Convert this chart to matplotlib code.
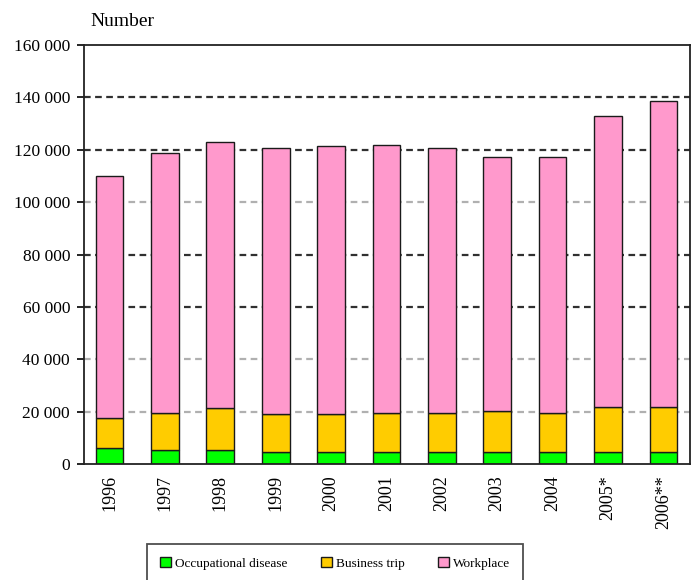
import matplotlib
matplotlib.use("Agg")
import matplotlib.pyplot as plt
import numpy as np

plt.rcParams['font.family'] = ['Liberation Serif', 'DejaVu Serif']

years = ["1996", "1997", "1998", "1999", "2000", "2001", "2002", "2003", "2004", "2005*", "2006**"]
occupational = [6000, 5300, 5300, 4400, 4400, 4400, 4400, 4400, 4400, 4400, 4400]
business = [11400, 14000, 16200, 14600, 14600, 15000, 15200, 15900, 15200, 17500, 17500]
workplace = [92600, 99300, 101300, 101700, 102500, 102600, 100900, 97000, 97700, 110900, 116800]
y_ticks = [0, 20000, 40000, 60000, 80000, 100000, 120000, 140000, 160000]

fig = plt.figure(figsize=(6.93, 5.80), dpi=100)
ax = fig.add_axes([84 / 693, 1 - 464 / 580, (690 - 84) / 693, (464 - 45) / 580])

x = np.arange(len(years))
occ = np.array(occupational)
bus = np.array(business)
wrk = np.array(workplace)

# dashed gridlines, alternating dark and light grey
grid_styles = {20000: '#b0b0b0', 40000: '#b0b0b0', 60000: '#303030', 80000: '#303030',
               100000: '#b0b0b0', 120000: '#303030', 140000: '#303030'}
for val, col in grid_styles.items():
    ax.axhline(val, color=col, lw=1.6, ls=(0, (3, 2)), zorder=0)

w = 0.5
ec = '#1a1a1a'
b1 = ax.bar(x, occ, w, color='#00ff00', edgecolor=ec, lw=1.0, zorder=2, label='Occupational disease')
b2 = ax.bar(x, bus, w, bottom=occ, color='#ffcc00', edgecolor=ec, lw=1.0, zorder=2, label='Business trip')
b3 = ax.bar(x, wrk, w, bottom=occ + bus, color='#ff99cc', edgecolor=ec, lw=1.0, zorder=2, label='Workplace')

ax.set_xlim(-0.46, 10.48)
ax.set_ylim(0, 160000)
ax.set_yticks(y_ticks)
ax.set_yticklabels([f"{v:,}".replace(",", " ") for v in y_ticks], fontsize=12.5)
ax.set_xticks(x)
ax.set_xticklabels(years, rotation=90, fontsize=13)
ax.tick_params(axis='x', length=0, pad=8)
ax.tick_params(axis='y', length=5, width=1.2, direction='out', pad=5)

for s in ax.spines.values():
    s.set_linewidth(1.3)
    s.set_color('#222222')

fig.text(90 / 693, 1 - 22 / 580, "Number", fontsize=14, ha='left', va='center')

leg = fig.legend(handles=[b1, b2, b3], loc='upper left',
                 bbox_to_anchor=(147 / 693, 1 - 544 / 580, 376 / 693, 0),
                 mode='expand', ncol=3, fontsize=9.5, frameon=True, fancybox=False,
                 handlelength=0.8, handleheight=0.8, handletextpad=0.3,
                 borderpad=1.0, borderaxespad=0)
leg.get_frame().set_edgecolor('#222222')
leg.get_frame().set_linewidth(1.3)

fig.savefig("out.png", dpi=100)
